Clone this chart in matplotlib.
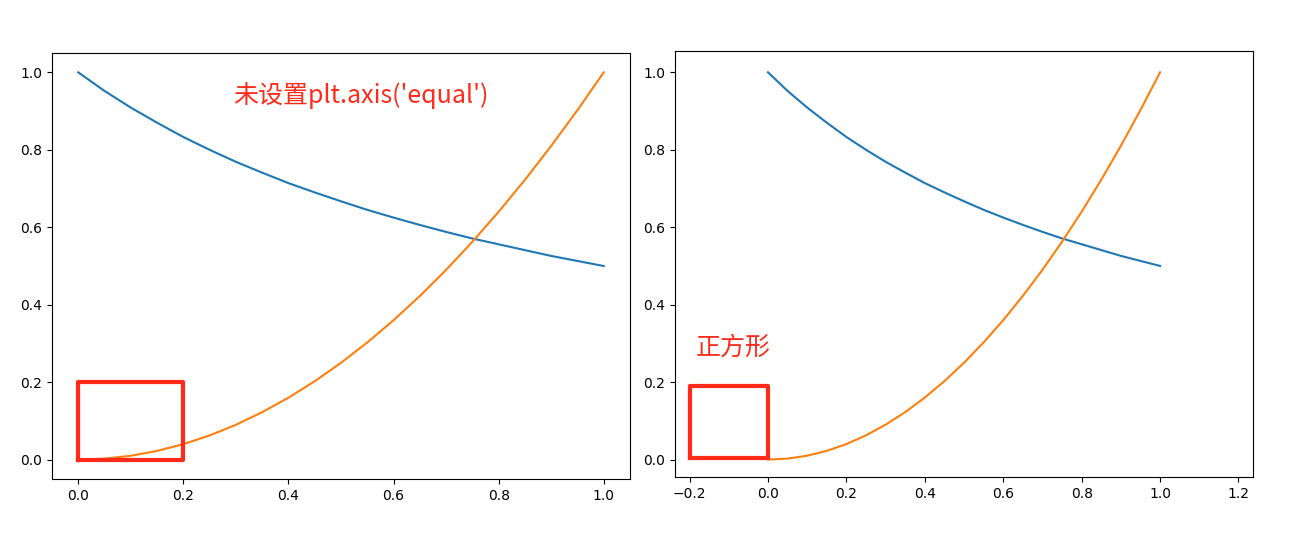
import matplotlib
matplotlib.use("Agg")
import matplotlib.pyplot as plt

x = [0.0,0.05,0.1,0.15,0.2,0.25,0.3,0.35,0.4,0.45,0.5,0.55,0.6,0.65,0.7,0.75,0.8,0.85,0.9,0.95,1.0]
blue = [1.0,0.952,0.909,0.870,0.833,0.800,0.769,0.741,0.714,0.690,0.667,0.645,0.625,0.606,0.588,0.571,0.556,0.541,0.526,0.513,0.5]
orange = [0.0,0.0025,0.01,0.0225,0.04,0.0625,0.09,0.1225,0.16,0.2025,0.25,0.3025,0.36,0.4225,0.49,0.5625,0.64,0.7225,0.81,0.9025,1.0]
rect_left_x = [0, 0.2, 0.2, 0, 0]
rect_left_y = [0, 0, 0.2, 0.2, 0]
rect_right_x = [-0.2, 0, 0, -0.2, -0.2]
rect_right_y = [0.005, 0.005, 0.19, 0.19, 0.005]
title_left = "未设置plt.axis('equal')"
title_right = "正方形"

fig = plt.figure(figsize=(12.99, 5.46), dpi=100)
ax1 = fig.add_axes([52/1299, 1-479/546, 578/1299, 426/546])
ax2 = fig.add_axes([675/1299, 1-477/546, 578/1299, 426/546])
font = "Noto Sans CJK SC"

for ax in (ax1, ax2):
    ax.plot(x, blue, color="#1f77b4")
    ax.plot(x, orange, color="#ff7f0e")

ax1.plot(rect_left_x, rect_left_y, color="#ff2a1a", lw=3, solid_joinstyle="round")
ax1.set_xlim(-0.05, 1.05)
ax1.set_ylim(-0.05, 1.05)
ax1.text(0.295, 0.92, title_left, color="#ff2a1a", fontsize=18, family=font)

ax2.plot(rect_right_x, rect_right_y, color="#ff2a1a", lw=3, solid_joinstyle="round")
ax2.set_xlim(-0.237, 1.237)
ax2.set_ylim(-0.045, 1.055)
ax2.set_xticks([-0.2,0.0,0.2,0.4,0.6,0.8,1.0,1.2])
ax2.text(-0.185, 0.27, title_right, color="#ff2a1a", fontsize=18, family=font)

fig.savefig("out.png", dpi=100)
